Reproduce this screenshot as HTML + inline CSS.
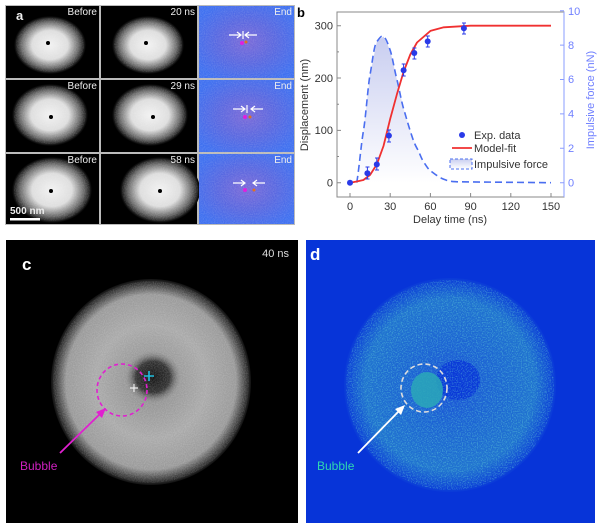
<!DOCTYPE html>
<html><head><meta charset="utf-8"><style>
html,body{margin:0;padding:0;background:#fff;width:600px;height:530px;overflow:hidden}
svg{display:block}
text{font-family:"Liberation Sans",sans-serif}
</style></head><body>
<svg width="600" height="530" viewBox="0 0 600 530" xmlns="http://www.w3.org/2000/svg">
<defs>
<radialGradient id="blob" cx="50%" cy="50%" r="50%">
<stop offset="0" stop-color="#f2f2f2"/><stop offset="0.5" stop-color="#dedede"/><stop offset="0.8" stop-color="#6a6a6a"/><stop offset="1" stop-color="#000"/>
</radialGradient>
<radialGradient id="blue" cx="50%" cy="50%" r="60%">
<stop offset="0" stop-color="#7a6ad8"/><stop offset="0.5" stop-color="#5a68e0"/><stop offset="1" stop-color="#3f70f0"/>
</radialGradient>
<radialGradient id="ring" cx="50%" cy="50%" r="50%">
<stop offset="0" stop-color="#8a8a8a"/><stop offset="0.55" stop-color="#aaaaaa"/><stop offset="0.85" stop-color="#9a9a9a"/><stop offset="1" stop-color="#111"/>
</radialGradient>
<radialGradient id="hole" cx="50%" cy="50%" r="50%">
<stop offset="0" stop-color="#151515"/><stop offset="0.6" stop-color="#333"/><stop offset="1" stop-color="#888" stop-opacity="0"/>
</radialGradient>
<radialGradient id="ringd" cx="50%" cy="50%" r="50%">
<stop offset="0" stop-color="#1a4ed8"/><stop offset="0.35" stop-color="#1c62d4"/><stop offset="0.8" stop-color="#2072d0"/><stop offset="1" stop-color="#0a3ad8"/>
</radialGradient>
<linearGradient id="fill" x1="0" y1="0" x2="0" y2="1">
<stop offset="0" stop-color="#c8cdf0"/><stop offset="1" stop-color="#ffffff"/>
</linearGradient>
<filter id="noise"><feTurbulence type="fractalNoise" baseFrequency="0.9" numOctaves="1" seed="3"/><feColorMatrix values="0 0 0 0 1 0 0 0 0 1 0 0 0 0 1 0 0 0 0.6 -0.2"/></filter>
<filter id="noiseg"><feTurbulence type="fractalNoise" baseFrequency="0.8" numOctaves="1" seed="5"/><feColorMatrix values="0 0 0 0 0.2 0 0 0 0 0.9 0 0 0 0 0.7 0 0 0 1.6 -0.7"/></filter>
<clipPath id="cc"><ellipse cx="151" cy="382" rx="98" ry="101"/></clipPath>
<clipPath id="cd"><ellipse cx="450" cy="385" rx="104" ry="105"/></clipPath>
<clipPath id="ca"><ellipse cx="50" cy="45" rx="34" ry="27"/><ellipse cx="148" cy="45" rx="34" ry="27"/><ellipse cx="50" cy="115" rx="36" ry="29"/><ellipse cx="150" cy="115" rx="36" ry="29"/><ellipse cx="52" cy="190" rx="38" ry="31"/><ellipse cx="160" cy="190" rx="38" ry="31"/><rect x="199" y="6" width="95" height="218"/></clipPath>
</defs>

<!-- Panel a -->
<rect x="5" y="5" width="290" height="220" fill="#bbb"/>
<g>
<rect x="6" y="6" width="93" height="72" fill="#000"/><ellipse cx="50" cy="45" rx="36" ry="29" fill="url(#blob)"/>
<rect x="101" y="6" width="96" height="72" fill="#000"/><ellipse cx="148" cy="45" rx="36" ry="29" fill="url(#blob)"/>
<rect x="199" y="6" width="95" height="72" fill="url(#blue)"/>
<rect x="6" y="80" width="93" height="72" fill="#000"/><ellipse cx="50" cy="115" rx="38" ry="31" fill="url(#blob)"/>
<rect x="101" y="80" width="96" height="72" fill="#000"/><ellipse cx="150" cy="115" rx="38" ry="31" fill="url(#blob)"/>
<rect x="199" y="80" width="95" height="72" fill="url(#blue)"/>
<rect x="6" y="154" width="93" height="70" fill="#000"/><ellipse cx="52" cy="190" rx="40" ry="33" fill="url(#blob)"/>
<rect x="101" y="154" width="96" height="70" fill="#000"/><ellipse cx="160" cy="190" rx="40" ry="33" fill="url(#blob)"/>
<rect x="199" y="154" width="95" height="70" fill="url(#blue)"/>
<rect x="5" y="5" width="290" height="220" filter="url(#noise)" clip-path="url(#ca)" opacity="0.5"/>
</g>
<g fill="#000"><circle cx="48" cy="43" r="2"/><circle cx="146" cy="43" r="2"/><circle cx="51" cy="117" r="2"/><circle cx="153" cy="117" r="2"/><circle cx="51" cy="191" r="2"/><circle cx="160" cy="191" r="2"/></g>
<g fill="#eee" font-size="10">
<text x="16" y="20" font-weight="bold" font-size="13">a</text>
<text x="97" y="15" text-anchor="end">Before</text><text x="195" y="15" text-anchor="end">20 ns</text><text x="292" y="15" text-anchor="end">End</text>
<text x="97" y="89" text-anchor="end">Before</text><text x="195" y="89" text-anchor="end">29 ns</text><text x="292" y="89" text-anchor="end">End</text>
<text x="97" y="163" text-anchor="end">Before</text><text x="195" y="163" text-anchor="end">58 ns</text><text x="292" y="163" text-anchor="end">End</text>
<text x="10" y="214" font-weight="bold">500 nm</text>
</g>
<rect x="10" y="218" width="30" height="2.5" fill="#fff"/>
<g stroke="#fff" stroke-width="1.2" fill="none">
<path d="M229 35h12M237 32l4 3-4 3M257 35h-12M249 32l-4 3 4 3M243 31v8"/>
<path d="M233 109h12M241 106l4 3-4 3M263 109h-12M255 106l-4 3 4 3M247 105v8"/>
<path d="M233 183h12M241 180l4 3-4 3M265 183h-12M257 180l-4 3 4 3"/>
</g>
<g><circle cx="242" cy="43" r="2" fill="#e020e0"/><circle cx="246" cy="42" r="1.5" fill="#e07020"/>
<circle cx="245" cy="117" r="2" fill="#e020e0"/><circle cx="250" cy="117" r="1.5" fill="#e07020"/>
<circle cx="245" cy="190" r="2" fill="#e020e0"/><circle cx="254" cy="190" r="1.5" fill="#e07020"/></g>

<!-- Panel b -->
<text x="297" y="17" font-weight="bold" font-size="13">b</text>
<path d="M356.7 182.7L363.4 131.1L370.1 74.3L376.8 41.7L383.5 36.5L390.2 50.3L396.9 79.5L403.6 108.7L410.3 131.1L417 148.3L423.7 162L430.4 170.7L443.8 179.3L457.2 181.8L470 182.7Z" fill="url(#fill)"/>
<path d="M356.7 182.7C359 170 361 145 363.4 131.1S368 85 370.1 74.3S374 45 376.8 41.7S381 35 383.5 36.5S388 44 390.2 50.3S394 68 396.9 79.5S401 100 403.6 108.7S408 124 410.3 131.1S414 143 417 148.3S421 158 423.7 162S428 169 430.4 170.7S438 177 443.8 179.3S452 181.5 457.2 181.8L551 182.7" fill="none" stroke="#4a6ef0" stroke-width="1.6" stroke-dasharray="7,4"/>
<rect x="337" y="12" width="227" height="185" fill="none" stroke="#888" stroke-width="1"/>
<path d="M564 12v185" stroke="#8a9cff"/>
<g stroke="#888">
<path d="M337 182.7h4M337 130.4h4M337 78h4M337 25.7h4M337 156.5h2M337 104.2h2M337 51.9h2"/>
<path d="M350 197v-4M390.2 197v-4M430.4 197v-4M470.6 197v-4M510.8 197v-4M551 197v-4"/>
</g>
<g stroke="#8a9cff"><path d="M564 182.7h-4M564 148.3h-4M564 113.9h-4M564 79.5h-4M564 45.1h-4M564 10.7h-4"/></g>
<g font-size="11" fill="#333" text-anchor="end">
<text x="333" y="186.5">0</text><text x="333" y="134">100</text><text x="333" y="82">200</text><text x="333" y="29.5">300</text>
</g>
<g font-size="11" fill="#333" text-anchor="middle">
<text x="350" y="210">0</text><text x="390.2" y="210">30</text><text x="430.4" y="210">60</text><text x="470.6" y="210">90</text><text x="510.8" y="210">120</text><text x="551" y="210">150</text>
<text x="450" y="223">Delay time (ns)</text>
</g>
<text transform="translate(308,105) rotate(-90)" font-size="11" fill="#333" text-anchor="middle">Displacement (nm)</text>
<g font-size="11" fill="#6f7fff">
<text x="568" y="186.5">0</text><text x="568" y="152">2</text><text x="568" y="117.5">4</text><text x="568" y="83">6</text><text x="568" y="49">8</text><text x="568" y="15">10</text>
</g>
<text transform="translate(594,100) rotate(-90)" font-size="11" fill="#6f7fff" text-anchor="middle">Impulsive force (nN)</text>
<path d="M350 182.7L356.7 181.5L363.4 180L370.1 174.9L376.8 164.4L383.5 146L390.2 118.9L396.9 94.3L403.6 71.8L410.3 54.5L417 42.5L430.4 30.9L443.8 27.3L470.6 25.7L551 25.7" fill="none" stroke="#f03030" stroke-width="1.8" stroke-linejoin="round"/>
<g stroke="#2a3ae8" stroke-width="1">
<path d="M367.4 167v12M365.5 167h4M365.5 179h4M376.8 158v12M375 158h4M375 170h4M388.9 130v12M387 130h4M387 142h4M403.6 64v12M401.7 64h4M401.7 76h4M414.3 48v11M412.4 48h4M412.4 59h4M427.7 36v11M425.8 36h4M425.8 47h4M463.9 23v11M462 23h4M462 34h4"/>
</g>
<g fill="#2a3ae8"><circle cx="350" cy="182.7" r="3"/><circle cx="367.4" cy="173.3" r="3"/><circle cx="376.8" cy="164.4" r="3"/><circle cx="388.9" cy="135.6" r="3"/><circle cx="403.6" cy="70.2" r="3"/><circle cx="414.3" cy="53" r="3"/><circle cx="427.7" cy="41.4" r="3"/><circle cx="463.9" cy="28.3" r="3"/>
<circle cx="462" cy="135" r="3"/></g>
<path d="M452 148h20" stroke="#f03030" stroke-width="1.8"/>
<rect x="450" y="159" width="22" height="10" fill="url(#fill)" stroke="#4a6ef0" stroke-dasharray="3,2"/>
<g font-size="11" fill="#333"><text x="474" y="139">Exp. data</text><text x="474" y="152">Model-fit</text><text x="474" y="168">Impulsive force</text></g>

<!-- Panel c -->
<rect x="6" y="240" width="292" height="283" fill="#000"/>
<ellipse cx="151" cy="382" rx="100" ry="103" fill="url(#ring)"/>
<ellipse cx="153" cy="377" rx="28" ry="26" fill="url(#hole)"/>
<rect x="50" y="278" width="205" height="210" filter="url(#noise)" clip-path="url(#cc)" opacity="0.6"/>
<ellipse cx="122" cy="390" rx="25" ry="26" fill="none" stroke="#e020d0" stroke-width="1.6" stroke-dasharray="4,3"/>
<path d="M144 376h10M149 371v10" stroke="#20c0e0" stroke-width="1.6"/>
<path d="M130 388h8M134 384v8" stroke="#eee" stroke-width="1.2"/>
<path d="M60 453L101 413" stroke="#e020d0" stroke-width="1.8"/>
<path d="M106 408L96 412L102 418Z" fill="#e020d0"/>
<text x="20" y="470" font-size="12" fill="#d020c0">Bubble</text>
<text x="22" y="270" font-size="17" font-weight="bold" fill="#fff">c</text>
<text x="289" y="257" font-size="11" fill="#ddd" text-anchor="end">40 ns</text>

<!-- Panel d -->
<rect x="306" y="240" width="289" height="283" fill="#0734d8"/>
<ellipse cx="450" cy="385" rx="106" ry="107" fill="url(#ringd)"/>
<ellipse cx="458" cy="380" rx="22" ry="20" fill="#0734d8" opacity="0.85"/>
<rect x="344" y="278" width="212" height="214" filter="url(#noiseg)" clip-path="url(#cd)" opacity="0.7"/>
<ellipse cx="427" cy="390" rx="16" ry="18" fill="#2aa8b8" opacity="0.85"/>
<ellipse cx="424" cy="388" rx="23" ry="24" fill="none" stroke="#ddd" stroke-width="1.6" stroke-dasharray="5,3"/>
<path d="M358 453L400 410" stroke="#fff" stroke-width="1.8"/>
<path d="M405 405L395 409L401 415Z" fill="#fff"/>
<text x="317" y="470" font-size="12" fill="#30d8b0">Bubble</text>
<text x="310" y="260" font-size="17" font-weight="bold" fill="#fff">d</text>
</svg>
</body></html>
